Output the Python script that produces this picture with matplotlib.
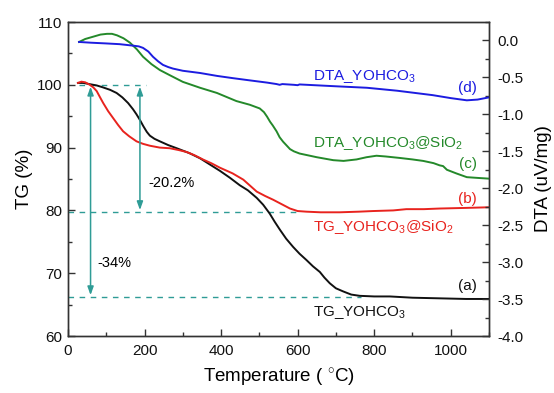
import matplotlib
matplotlib.use('Agg')
import matplotlib.pyplot as plt
from matplotlib.ticker import MultipleLocator

plt.rcParams['font.family'] = ['Liberation Sans', 'DejaVu Sans']
plt.rcParams['mathtext.fontset'] = 'custom'
plt.rcParams['mathtext.rm'] = 'Liberation Sans'
plt.rcParams['mathtext.it'] = 'Liberation Sans:italic'

# (a) TG of YOHCO3
tg_a_T = [26, 40, 57, 75, 91, 110, 127, 142, 157, 170, 179, 188, 197, 206, 214, 226,
          240, 262, 284, 318, 345, 371, 397, 423, 449, 470, 493, 510, 527, 540, 554,
          570, 588, 605, 623, 640, 658, 670, 684, 700, 719, 740, 762, 800, 841, 900,
          971, 1040, 1100]
tg_a = [100.3, 100.3, 100.1, 99.9, 99.6, 99.2, 98.7, 98.0, 97.1, 96.1, 95.3, 94.4,
        93.4, 92.5, 91.9, 91.4, 91.0, 90.4, 89.9, 89.1, 88.3, 87.3, 86.3, 85.2, 84.0,
        83.2, 82.0, 80.9, 79.5, 78.2, 76.9, 75.5, 74.2, 73.1, 72.1, 71.1, 70.2, 69.3,
        68.4, 67.6, 67.1, 66.6, 66.4, 66.3, 66.3, 66.1, 66.0, 65.9, 65.9]

# (b) TG of YOHCO3@SiO2
tg_b_T = [26, 35, 45, 57, 66, 75, 83, 92, 105, 118, 131, 144, 160, 179, 196, 214,
          240, 266, 290, 310, 330, 353, 375, 397, 430, 458, 493, 515, 536, 558, 580,
          600, 623, 660, 710, 760, 797, 850, 884, 930, 971, 1040, 1100]
tg_b = [100.3, 100.5, 100.4, 100.0, 99.6, 99.0, 98.1, 97.1, 95.8, 94.7, 93.6, 92.6,
        91.8, 91.0, 90.6, 90.3, 90.0, 89.9, 89.6, 89.3, 88.8, 88.1, 87.5, 86.8, 85.9,
        84.9, 83.0, 82.3, 81.7, 81.0, 80.3, 79.9, 79.8, 79.7, 79.7, 79.8, 79.9, 80.0,
        80.2, 80.2, 80.3, 80.4, 80.5]

# (c) DTA of YOHCO3@SiO2
dta_c_T = [29, 45, 65, 85, 102, 115, 128, 145, 162, 180, 196, 218, 240, 266, 300,
           345, 389, 440, 475, 501, 512, 520, 528, 535, 545, 553, 562, 571, 580, 590,
           605, 623, 650, 693, 720, 754, 780, 806, 830, 867, 900, 928, 955, 971, 980,
           990, 1015, 1042, 1070, 1100]
dta_c = [-0.02, 0.02, 0.05, 0.08, 0.09, 0.09, 0.07, 0.03, -0.03, -0.12, -0.22, -0.32,
         -0.40, -0.47, -0.56, -0.64, -0.71, -0.82, -0.87, -0.92, -0.97, -1.03, -1.10,
         -1.15, -1.23, -1.31, -1.37, -1.42, -1.47, -1.50, -1.53, -1.55, -1.58, -1.62,
         -1.63, -1.61, -1.58, -1.56, -1.57, -1.59, -1.61, -1.63, -1.66, -1.69, -1.70,
         -1.75, -1.80, -1.85, -1.86, -1.87]

# (d) DTA of YOHCO3
dta_d_T = [29, 60, 100, 135, 170, 185, 196, 210, 222, 235, 248, 262, 274, 300, 345,
           390, 431, 475, 520, 545, 553, 560, 590, 600, 605, 624, 700, 781, 860, 953,
           1000, 1042, 1070, 1100]
dta_d = [-0.02, -0.03, -0.04, -0.05, -0.07, -0.08, -0.10, -0.15, -0.22, -0.28, -0.33,
         -0.36, -0.38, -0.41, -0.44, -0.48, -0.51, -0.54, -0.57, -0.59, -0.60, -0.59,
         -0.60, -0.605, -0.595, -0.60, -0.62, -0.64, -0.68, -0.74, -0.78, -0.81, -0.80,
         -0.77]

# annotation levels
tg_start = 100.0
tg_end_b = 79.75
tg_end_a = 66.2
arrow_T_a = 59
arrow_T_b = 188

C_BLACK = '#111111'
C_RED = '#e8231e'
C_GREEN = '#24892a'
C_BLUE = '#1c1ce0'
C_TEAL = '#2f9c96'
FS_TICK = 11
FS_LABEL = 13.5

fig = plt.figure(figsize=(5.54, 3.93), dpi=100)
fig.subplots_adjust(left=0.1227, right=0.8827, bottom=0.145, top=0.944)
ax = fig.add_subplot(111)
ax2 = ax.twinx()

ax.plot(tg_a_T, tg_a, color=C_BLACK, lw=1.4, zorder=3)
ax.plot(tg_b_T, tg_b, color=C_RED, lw=1.4, zorder=3)
ax2.plot(dta_c_T, dta_c, color=C_GREEN, lw=1.4)
ax2.plot(dta_d_T, dta_d, color=C_BLUE, lw=1.4)

# dashed guide lines
ax.plot([29, 204], [tg_start, tg_start], '--', color=C_TEAL, lw=1.0, dashes=(4, 4))
ax.plot([0, 610], [tg_end_b, tg_end_b], '--', color=C_TEAL, lw=1.0, dashes=(4, 4))
ax.plot([0, 765], [tg_end_a, tg_end_a], '--', color=C_TEAL, lw=1.0, dashes=(4, 4))

arrowprops = dict(arrowstyle='<|-|>,head_length=0.5,head_width=0.18', color=C_TEAL,
                  lw=1.1, shrinkA=0, shrinkB=0)
ax.annotate('', xy=(arrow_T_a, tg_start - 0.3), xytext=(arrow_T_a, tg_end_a + 0.3),
            arrowprops=arrowprops)
ax.annotate('', xy=(arrow_T_b, tg_start - 0.3), xytext=(arrow_T_b, tg_end_b + 0.3),
            arrowprops=arrowprops)
ax.text(209, 84.4, '-20.2%', fontsize=10.5, va='center', ha='left')
ax.text(76, 71.6, '-34%', fontsize=10.5, va='center', ha='left')

# curve labels
ax2.text(640, -0.49, 'DTA_YOHCO$_3$', color=C_BLUE, fontsize=FS_TICK, va='center')
ax2.text(1044, -0.64, '(d)', color=C_BLUE, fontsize=FS_TICK, va='center', ha='center')
ax2.text(640, -1.39, 'DTA_YOHCO$_3$@SiO$_2$', color=C_GREEN, fontsize=FS_TICK,
         va='center')
ax2.text(1044, -1.67, '(c)', color=C_GREEN, fontsize=FS_TICK, va='center', ha='center')
ax.text(1044, 81.8, '(b)', color=C_RED, fontsize=FS_TICK, va='center', ha='center')
ax.text(640, 77.4, 'TG_YOHCO$_3$@SiO$_2$', color=C_RED, fontsize=FS_TICK, va='center')
ax.text(1044, 68.0, '(a)', color=C_BLACK, fontsize=FS_TICK, va='center', ha='center')
ax.text(640, 63.8, 'TG_YOHCO$_3$', color=C_BLACK, fontsize=FS_TICK, va='center')

ax.set_xlim(0, 1100)
ax.set_ylim(60, 110)
ax2.set_ylim(-4.0, 0.25)

ax.xaxis.set_major_locator(MultipleLocator(200))
ax.xaxis.set_minor_locator(MultipleLocator(100))
ax.yaxis.set_major_locator(MultipleLocator(10))
ax.yaxis.set_minor_locator(MultipleLocator(5))
ax2.yaxis.set_minor_locator(MultipleLocator(0.25))
ax2.set_yticks([-4.0, -3.5, -3.0, -2.5, -2.0, -1.5, -1.0, -0.5, 0.0])
ax2.set_yticklabels(['-4.0', '-3.5', '-3.0', '-2.5', '-2.0', '-1.5', '-1.0', '-0.5', '0.0'])

for a in (ax, ax2):
    a.tick_params(which='both', direction='in', labelsize=FS_TICK, colors='#333333',
                  labelcolor='#111111')
    a.tick_params(which='major', length=5, width=1)
    a.tick_params(which='minor', length=3, width=1)
    for s in a.spines.values():
        s.set_color('#333333')
        s.set_linewidth(1.0)
ax.tick_params(axis='x', pad=6)
ax.tick_params(axis='y', pad=4)
ax2.tick_params(axis='y', pad=6)

ax.set_xlabel('Temperature ( $^{\\circ}$C)', fontsize=FS_LABEL, labelpad=6)
ax.set_ylabel('TG (%)', fontsize=FS_LABEL, labelpad=3)
ax2.set_ylabel('DTA (uV/mg)', fontsize=FS_LABEL, labelpad=8)

fig.savefig('out.png', dpi=100)
